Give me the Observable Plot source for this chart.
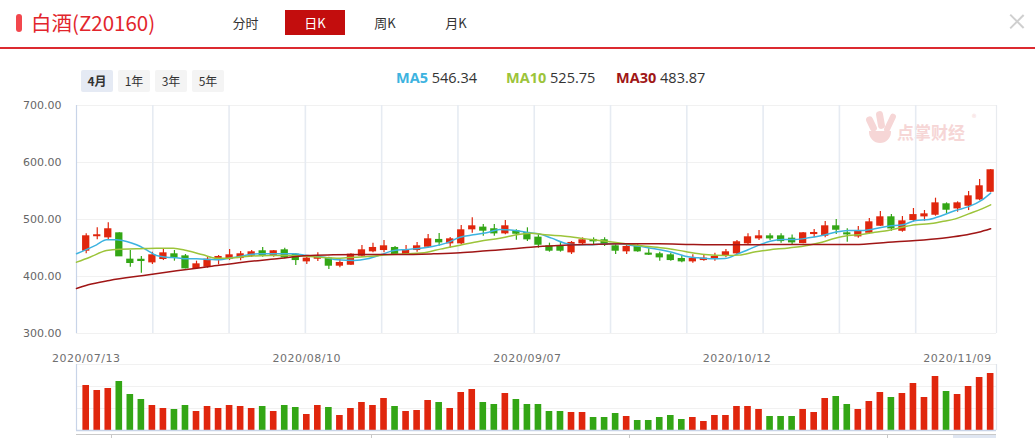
<!DOCTYPE html>
<html><head><meta charset="utf-8">
<script src="https://cdn.jsdelivr.net/npm/d3@7"></script>
<script src="https://cdn.jsdelivr.net/npm/@observablehq/plot@0.6"></script>
<style>
body{margin:0;width:1035px;height:438px;overflow:hidden;background:#fff;position:relative;font-family:"Noto Sans CJK SC","Noto Sans",sans-serif}
.a{position:absolute;white-space:nowrap}
.tab{top:10px;height:25px;line-height:25px;font-size:13px;color:#333;text-align:center}
.btn{top:70px;height:22px;line-height:22px;width:32px;font-size:12px;color:#333;text-align:center;background:#f4f4f4;border-radius:2px}
.leg{top:67px;font-size:14.5px;line-height:22px;font-family:"Open Sans","Noto Sans",sans-serif}
.leg b{font-weight:700}
.wm{color:#f6d6d6}
#vol svg g[aria-label="x-axis tick label"] text{letter-spacing:0.5px}
</style></head><body>
<div id="header"></div>
<div id="main" class="a" style="left:0;top:95px"></div>
<div id="vol" class="a" style="left:0;top:340px"></div>
<script>
// ---------- data ----------
const dateLabels = ["2020/07/13","2020/08/10","2020/09/07","2020/10/12","2020/11/09"];
const dateIdx = [0, 20, 40, 59, 79];
const open  = [445.6,471.0,469.0,475.4,429.2,429.0,425.1,431.0,438.6,435.0,415.2,417.5,429.2,431.0,432.7,436.8,443.9,438.0,445.6,438.0,
               426.9,431.5,431.0,419.3,421.0,436.8,444.5,446.8,449.7,439.8,446.8,452.6,463.8,458.5,458.5,483.1,485.4,482.5,476.0,479.0,
               476.0,467.8,452.6,452.6,442.7,458.5,463.8,463.2,452.6,444.5,452.6,439.8,438.6,436.8,430.4,426.9,429.2,431.0,436.8,440.9,
               458.5,467.2,470.1,470.1,466.0,459.0,474.8,471.9,487.7,475.4,470.7,477.1,489.4,503.5,480.6,499.4,505.8,508.7,526.3,519.8,
               524.5,535.6,549.1];
const close = [470.2,472.0,482.5,435.7,424.0,427.5,436.8,440.3,433.9,414.6,421.0,429.2,433.9,436.8,438.6,442.1,438.0,443.9,433.9,429.2,
               431.0,432.7,419.3,423.4,438.0,445.6,449.7,452.6,439.8,445.6,452.6,464.9,460.2,464.9,480.7,487.7,480.7,476.0,487.7,475.4,
               465.5,456.1,445.6,445.6,458.5,463.2,462.0,455.6,445.6,451.5,444.5,438.6,433.9,429.2,426.9,430.4,431.0,433.9,442.1,459.7,
               468.4,470.1,467.2,462.5,460.2,475.4,476.0,487.7,482.4,474.2,479.5,494.7,503.5,484.7,496.4,507.4,508.7,528.0,517.5,528.0,
               540.3,557.9,586.0];
const high  = [474.9,485.4,494.2,476.6,445.6,435.0,442.7,448.5,445.6,438.6,426.9,433.9,436.8,447.4,443.9,445.6,450.9,445.6,449.7,439.8,
               436.8,441.5,433.9,429.8,439.8,454.4,458.5,463.2,452.6,454.4,459.7,473.7,475.4,468.4,489.5,503.0,491.2,491.2,498.3,481.9,
               485.4,473.7,458.5,461.4,461.4,467.8,467.8,467.8,455.6,455.6,455.6,448.5,442.7,440.9,436.8,438.0,436.8,440.9,447.4,463.2,
               474.9,480.7,474.8,474.8,473.0,477.1,482.4,496.4,500.0,483.6,487.7,501.7,514.0,508.7,505.2,519.3,515.8,537.4,529.2,531.0,
               549.1,570.2,587.7];
const low   = [439.8,464.3,464.3,435.0,416.4,405.8,421.0,428.0,426.9,413.4,412.3,414.6,420.4,428.0,427.5,433.3,433.9,433.9,431.0,419.3,
               421.0,426.3,412.3,415.2,419.3,433.9,441.5,441.5,438.6,438.6,442.7,450.3,453.2,449.7,455.6,476.0,470.8,470.8,473.1,463.7,
               461.4,449.7,442.7,442.7,438.6,455.6,456.1,452.6,438.6,438.6,442.7,436.8,426.9,426.9,424.0,423.4,426.9,426.9,432.7,438.6,
               455.6,463.1,463.1,458.4,455.5,457.3,467.8,467.8,473.6,460.2,467.2,474.2,487.7,479.5,477.7,495.9,497.0,505.8,509.9,512.8,
               515.7,532.7,547.3];
const volume = [45,40,42,49,36,31,25,22,21,25,19,24,22,25,24,22,24,19,25,23,
                16,25,23,15,22,28,25,32,24,19,20,30,28,22,38,41,28,26,37,31,
                26,26,19,19,18,18,13,13,17,14,10,10,13,15,11,13,9,15,15,24,
                24,21,14,14,14,21,18,32,34,26,21,29,38,33,37,47,33,54,39,36,
                44,53,57];
const ma5Idx = [-0.88,0.94,1.84,2.75,3.66,4.56,5.47,6.37,7.28,8.19,9.09,10.0,11.2,12.1,13.0,13.9,14.8,15.7,17.3,18.8,
                20.0,21.6,22.8,24.3,25.5,26.7,27.9,29.1,30.3,31.5,32.7,33.9,35.1,36.3,37.5,38.7,40.3,41.0,42.2,43.4,
                44.6,45.9,47.1,48.3,49.5,50.7,51.9,53.1,54.3,55.5,56.7,57.9,59.0,60.0,61.0,62.0,63.1,64.3,65.5,66.7,
                67.9,69.1,70.3,71.5,72.7,74.0,75.2,76.4,77.6,78.8,80.0,81.2,82.0];
const ma5Val = [439.8,455.6,464.3,464.3,461.4,455.6,446.8,436.8,433.9,432.7,431.0,431.0,429.8,429.2,432.2,435.0,438.6,439.8,439.8,439.8,
                436.8,433.9,429.2,428.0,431.0,438.0,445.6,447.4,449.7,453.2,459.0,469.0,473.1,476.6,482.5,481.3,476.6,474.9,467.3,458.5,
                455.6,455.6,457.3,457.3,454.4,451.5,447.4,442.7,435.7,432.7,431.0,431.5,439.0,447.0,455.0,461.9,464.9,464.9,467.8,471.9,
                477.7,480.7,480.7,483.6,488.3,490.6,498.2,500.0,507.0,515.8,522.5,534.0,546.34];
const ma10Idx = [-0.88,0.33,1.84,3.05,4.56,6.37,7.9,9.1,10.6,11.8,13.0,14.8,16.6,18.5,20.0,21.2,23.0,24.3,25.5,27.3,
                 29.1,30.9,32.1,33.9,35.7,37.5,38.7,40.3,41.6,43.4,45.3,47.1,48.9,50.7,52.5,54.3,56.1,57.9,59.2,60.7,
                 61.9,63.7,65.5,66.7,67.9,69.1,70.3,71.5,72.7,74.0,75.2,76.4,77.6,78.8,80.0,81.2,82.0];
const ma10Val = [425.1,433.9,445.6,448.0,448.5,449.7,449.7,445.6,438.0,432.2,432.2,435.7,436.8,436.8,435.7,433.9,432.2,433.9,435.0,438.0,
                 439.8,442.7,448.0,455.0,462.0,467.0,472.0,476.0,473.1,470.8,466.0,462.0,457.3,453.2,449.7,443.9,438.6,436.8,437.5,443.5,
                 446.7,450.2,455.0,460.2,467.0,471.9,473.6,477.7,480.7,486.5,490.6,492.4,496.4,501.1,509.9,518.7,525.75];
const ma30Idx = [-0.88,0.18,2.1,5.2,8.2,11.2,14.2,17.3,20.0,22.4,25.5,28.5,31.5,33.9,36.3,38.7,40.3,42.8,45.9,48.9,
                 51.9,54.9,58.0,60.8,63.7,66.7,69.7,72.7,75.2,77.6,79.4,80.9,82.0];
const ma30Val = [378.8,385.4,393.0,401.8,409.9,417.5,425.1,431.0,436.8,438.0,438.6,438.6,439.8,441.5,445.0,448.5,451.5,454.4,456.2,457.3,
                 457.3,456.2,455.6,455.8,456.1,456.1,456.1,460.2,463.1,467.2,471.9,477.7,483.87];
const yTicks = [300, 400, 500, 600, 700];
const volTicks = [0, 22, 44, 66];
const maNames = ["MA5", "MA10", "MA30"];
const maLast = [546.34, 525.75, 483.87];
const maColors = ["#3db3e0", "#9cc43a", "#a01616"];
const tabs = ["分时", "日K", "周K", "月K"];
const periods = ["4月", "1年", "3年", "5年"];
const title = "白酒(Z20160)";
const brand = "点掌财经";

// ---------- header (HTML) ----------
const UP = "#e0260d", DOWN = "#33a615";
const H = document.getElementById("header");
let html = "";
html += `<div class="a" style="left:16px;top:14px;width:6px;height:18px;border-radius:3px;background:#f2474d"></div>`;
html += `<div class="a" style="left:31px;top:8px;font-size:20.5px;line-height:28px;color:#e2252c">${title}</div>`;
const tabX = [232, 285, 372, 444], tabW = [27, 60, 26, 24];
tabs.forEach((t, k) => {
  const sel = k === 1;
  html += `<div class="a tab" style="left:${tabX[k]}px;width:${tabW[k]}px;${sel ? "background:#c30d0d;color:#fff;" : ""}">${t}</div>`;
});
html += `<div class="a" style="left:0;top:47px;width:1035px;height:2px;background:#dc2a30"></div>`;
html += `<div class="a" style="left:1016px;top:12px;width:1.6px;height:19px;background:#cfcfcf;transform:rotate(45deg)"></div>`;
html += `<div class="a" style="left:1016px;top:12px;width:1.6px;height:19px;background:#cfcfcf;transform:rotate(-45deg)"></div>`;
const btnX = [81, 118, 155, 192];
periods.forEach((p, k) => {
  html += `<div class="a btn" style="left:${btnX[k]}px;${k === 0 ? "background:#e5eaf4;font-weight:700;" : ""}">${p}</div>`;
});
const legX = [396, 506, 616];
maNames.forEach((n, k) => {
  html += `<div class="a leg" style="left:${legX[k]}px"><b style="color:${maColors[k]}">${n}</b> <span style="color:#333">${maLast[k].toFixed(2)}</span></div>`;
});
// watermark
html += `<div class="a" style="left:868px;top:116px;width:7px;height:16px;border-radius:4px;background:#f6d6d6;transform:rotate(-25deg)"></div>`;
html += `<div class="a" style="left:877px;top:111px;width:7px;height:18px;border-radius:4px;background:#f6d6d6;transform:rotate(-10deg)"></div>`;
html += `<div class="a" style="left:887px;top:113px;width:6px;height:20px;border-radius:3px;background:#f6d6d6;transform:rotate(25deg)"></div>`;
html += `<div class="a" style="left:869px;top:131px;width:22px;height:12px;border-radius:0 0 11px 11px;background:#f6d6d6"></div>`;
html += `<div class="a wm" style="left:897px;top:121px;font-size:17px;font-weight:700;line-height:22px">${brand}</div>`;
html += `<div class="a wm" style="left:972px;top:111px;font-size:9px">®</div>`;
// navigator strip
html += `<div class="a" style="left:76px;top:434px;width:920px;height:1px;background:#c9c9c9"></div>`;
[111, 371, 629, 887].forEach(x => { html += `<div class="a" style="left:${x}px;top:434px;width:1px;height:4px;background:#c9c9c9"></div>`; });
html += `<div class="a" style="left:953px;top:435px;width:43px;height:3px;background:#dfe6f2"></div>`;
H.innerHTML = html;

// ---------- chart data tables ----------
const n = open.length;
const rows = open.map((o, i) => ({i, open: o, close: close[i], high: high[i], low: low[i], up: close[i] >= o, vol: volume[i]}));
const upRows = rows.filter(d => d.up), downRows = rows.filter(d => !d.up);
const toLine = (xs, ys) => xs.map((x, k) => ({x, y: ys[k]}));
const maData = [toLine(ma5Idx, ma5Val), toLine(ma10Idx, ma10Val), toLine(ma30Idx, ma30Val)];

const xd = [-0.88, 82.53];
const gridX = d3.range(0, 12).map(k => xd[0] + k * n / 12);
const W = 1035, ML = 76, MR = 39;
const font = {fontFamily: "'DejaVu Sans', sans-serif", fontSize: "11px", color: "#666", background: "transparent", overflow: "visible"};

const bodyW = 0.33;
function candleMarks(data, color) {
  return [
    Plot.ruleX(data, {x: "i", y1: "low", y2: "high", stroke: color, strokeWidth: 1.2}),
    Plot.rect(data, {x1: d => d.i - bodyW, x2: d => d.i + bodyW,
      y1: d => Math.min(d.open, d.close), y2: d => Math.max(d.open, d.close),
      fill: color, insetTop: -0.7, insetBottom: -0.7})
  ];
}

const main = Plot.plot({
  width: W, height: 245, marginLeft: ML, marginRight: MR, marginTop: 10, marginBottom: 7,
  style: font,
  x: {domain: xd, axis: null},
  y: {domain: [300, 700], axis: null},
  marks: [
    Plot.ruleY(yTicks, {stroke: "#f1f1f1", strokeWidth: 1}),
    Plot.ruleX(gridX.slice(1), {stroke: "#e6ebf2", strokeWidth: 1.6}),
    Plot.ruleX([xd[0]], {stroke: "#c8d4e8", strokeWidth: 1.2}),
    Plot.ruleX([xd[1]], {stroke: "#e8ebef", strokeWidth: 1.2}),
    ...candleMarks(upRows, UP),
    ...candleMarks(downRows, DOWN),
    ...maData.map((d, k) => Plot.line(d, {x: "x", y: "y", stroke: maColors[k], strokeWidth: 1.5, curve: "monotone-x"})),
    Plot.axisY(yTicks, {tickSize: 0, tickPadding: 15, tickFormat: d => d.toFixed(2), fill: "#666", fontSize: 11})
  ]
});
document.getElementById("main").appendChild(main);

const vol = Plot.plot({
  width: W, height: 98, marginLeft: ML, marginRight: MR, marginTop: 24, marginBottom: 8,
  style: font,
  x: {domain: xd, axis: null},
  y: {domain: [0, 66], axis: null},
  marks: [
    Plot.ruleY(volTicks.slice(1), {stroke: "#f1f1f1"}),
    Plot.rect(upRows, {x1: d => d.i - 0.3, x2: d => d.i + 0.3, y1: 0, y2: "vol", fill: UP}),
    Plot.rect(downRows, {x1: d => d.i - 0.3, x2: d => d.i + 0.3, y1: 0, y2: "vol", fill: DOWN}),
    Plot.ruleY([0], {stroke: "#c8d4e8", strokeWidth: 1.5}),
    Plot.ruleX([xd[0]], {stroke: "#c8d4e8", strokeWidth: 1.2}),
    Plot.ruleX([xd[1]], {stroke: "#dfe4ec", strokeWidth: 1.2}),
    Plot.axisX(dateIdx, {anchor: "top", tickSize: 0, tickPadding: 3,
      tickFormat: d => dateLabels[dateIdx.indexOf(d)], fill: "#707070", fontSize: 11})
  ]
});
document.getElementById("vol").appendChild(vol);
</script>
</body></html>
